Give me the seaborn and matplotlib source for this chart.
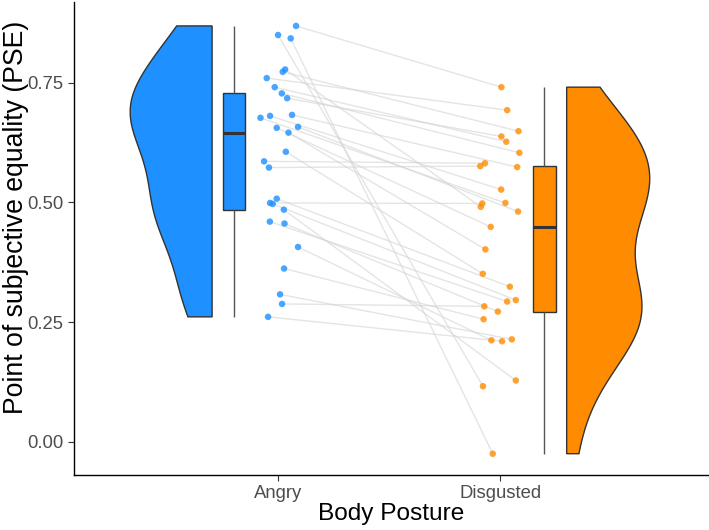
import numpy as np
import pandas as pd
import matplotlib
matplotlib.use("Agg")
import matplotlib.pyplot as plt
import seaborn as sns

# ---- data (paired by subject) ----
categories = ["Angry", "Disgusted"]
angry_pse = [0.869, 0.850, 0.843, 0.778, 0.773, 0.760, 0.741, 0.728, 0.718, 0.683,
             0.681, 0.677, 0.658, 0.656, 0.646, 0.606, 0.586, 0.573, 0.508, 0.499,
             0.497, 0.485, 0.460, 0.456, 0.407, 0.362, 0.308, 0.288, 0.261]
disgusted_pse = [0.741, 0.116, -0.025, 0.491, 0.649, 0.693, 0.627, 0.604, 0.638, 0.574,
                 0.527, 0.499, 0.481, 0.449, 0.402, 0.351, 0.582, 0.576, 0.324, 0.498,
                 0.296, 0.128, 0.293, 0.272, 0.212, 0.256, 0.214, 0.283, 0.210]
# horizontal jitter of each point (category units)
angry_jitter = [0.081, 0.000, 0.057, 0.032, 0.021, -0.051, -0.015, 0.017, 0.041, 0.063,
                -0.036, -0.079, 0.090, -0.006, 0.047, 0.035, -0.063, -0.041, -0.006, -0.036,
                -0.024, 0.026, -0.037, 0.029, 0.090, 0.027, 0.009, 0.018, -0.045]
disgusted_jitter = [0.006, -0.077, -0.033, -0.087, 0.083, 0.032, 0.028, 0.087, 0.006, 0.077,
                    0.005, 0.024, 0.081, -0.042, -0.066, -0.078, -0.068, -0.089, 0.044, -0.080,
                    0.071, 0.071, 0.032, -0.010, -0.039, -0.074, 0.053, -0.071, 0.009]

colors = {"Angry": "#1E90FF", "Disgusted": "#FF8C00"}

n = len(angry_pse)
df = pd.DataFrame({
    "subject": list(range(n)) * 2,
    "posture": ["Angry"] * n + ["Disgusted"] * n,
    "pse": angry_pse + disgusted_pse,
    "jit": angry_jitter + disgusted_jitter,
})
df["cat"] = df["posture"].map({c: i for i, c in enumerate(categories)})
df["xp"] = df["cat"] + df["jit"]

sns.set_style("ticks")
plt.rcParams["font.family"] = ["Liberation Sans", "DejaVu Sans"]

fig = plt.figure(figsize=(7.09, 5.30), dpi=100)
ax = fig.add_axes([74 / 709, 55 / 530, 635 / 709, 473 / 530])

# paired lines
sns.lineplot(data=df, x="xp", y="pse", units="subject", estimator=None,
             color="#d3d3d3", alpha=0.6, linewidth=1.0, ax=ax, legend=False, sort=False)

# points
sns.scatterplot(data=df, x="xp", y="pse", hue="posture", palette=colors,
                s=22, alpha=0.8, edgecolor="none", ax=ax, legend=False, zorder=4)

# boxplots, offset from the category centre
box_off = {"Angry": -0.198, "Disgusted": 0.20}
df["boxx"] = df["cat"] + df["posture"].map(box_off)
sns.boxplot(data=df, x="boxx", y="pse", hue="posture", palette=colors,
            native_scale=True, width=0.10 / 1.398, dodge=False, whis=1.5,
            linecolor="#333333", linewidth=1.0, fliersize=0, saturation=1,
            legend=False, ax=ax,
            medianprops={"linewidth": 2.2, "color": "#333333"},
            whiskerprops={"color": "#555555"}, capprops={"linewidth": 0})

# half violins (Gaussian KDE, nrd0 bandwidth, trimmed to data range)
def kde(vals):
    v = np.asarray(vals, float)
    sd = v.std(ddof=1)
    iqr = np.subtract(*np.percentile(v, [75, 25]))
    bw = 0.9 * min(sd, iqr / 1.34) * len(v) ** (-0.2)
    grid = np.linspace(v.min(), v.max(), 512)
    dens = np.exp(-0.5 * ((grid[:, None] - v[None, :]) / bw) ** 2).sum(1)
    dens /= (len(v) * bw * np.sqrt(2 * np.pi))
    return grid, dens

violin_edge = {"Angry": -0.297, "Disgusted": 0.300}
violin_width = {"Angry": 0.369, "Disgusted": 0.374}
for i, (cat, vals) in enumerate(zip(categories, [angry_pse, disgusted_pse])):
    g, d = kde(vals)
    w = d / d.max() * violin_width[cat]
    edge = i + violin_edge[cat]
    sign = -1 if cat == "Angry" else 1
    outer = edge + sign * w
    xs = np.concatenate([[edge], outer, [edge]])
    ys = np.concatenate([[g[0]], g, [g[-1]]])
    ax.fill(xs, ys, facecolor=colors[cat], edgecolor="#333333", linewidth=1.0, zorder=2)

ax.set_xlim(-0.919, 1.941)
ax.set_ylim(-0.0695, 0.919)
ax.set_xticks([0, 1])
ax.set_xticklabels(categories)
ax.set_yticks([0, 0.25, 0.5, 0.75])
ax.set_yticklabels(["0.00", "0.25", "0.50", "0.75"])
ax.tick_params(axis="both", labelsize=13.3, labelcolor="#4d4d4d", color="#333333",
               length=4, width=0.8)
ax.set_xlabel("Body Posture", fontsize=17.6, color="black")
ax.set_ylabel("Point of subjective equality (PSE)", fontsize=19.2, color="black")
ax.xaxis.set_label_coords(0.5, -0.060)
ax.yaxis.set_label_coords(-0.071, 0.545)
sns.despine(ax=ax)
for s in ["left", "bottom"]:
    ax.spines[s].set_color("black")
    ax.spines[s].set_linewidth(1.0)

fig.savefig("out.png", dpi=100)
